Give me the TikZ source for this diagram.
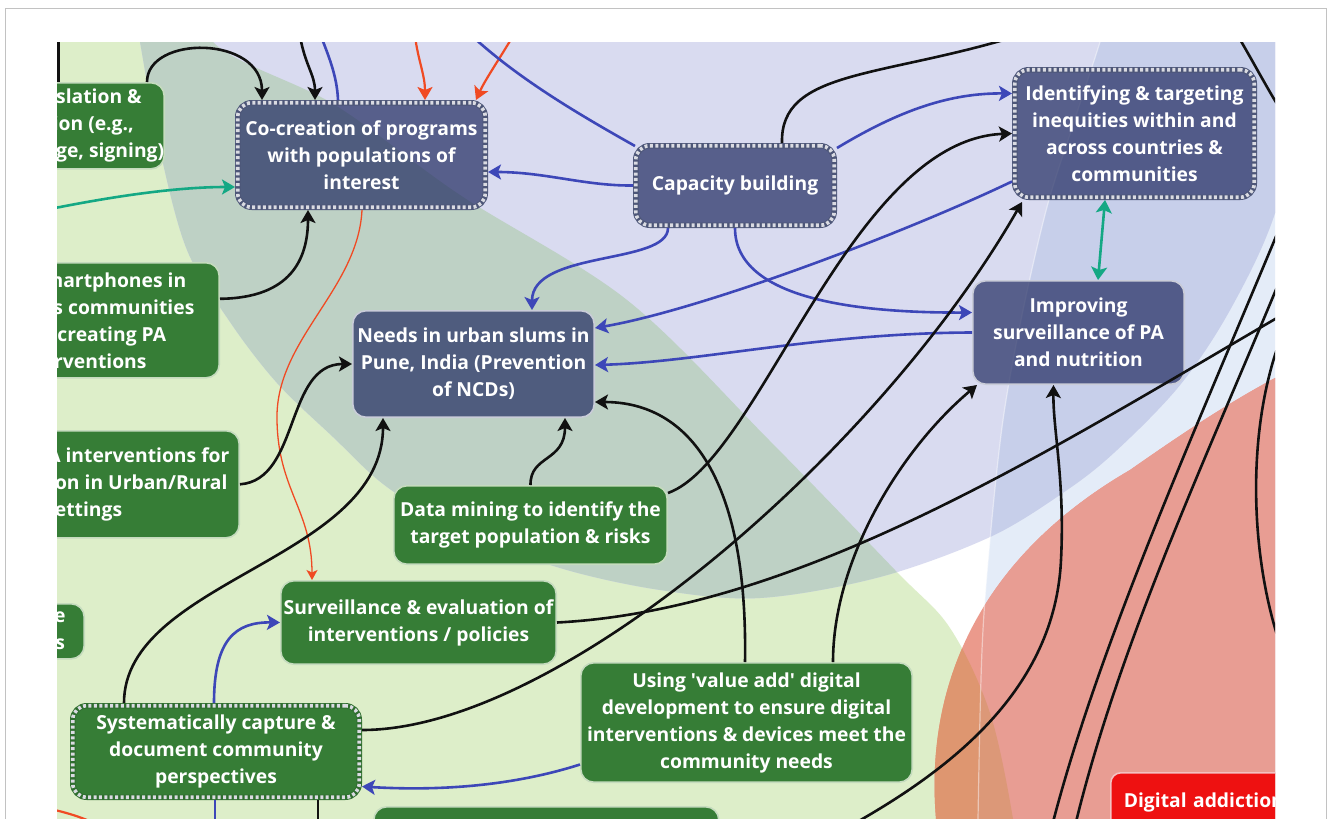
\documentclass[tikz,border=0pt]{standalone}
\usepackage{fontspec}
\setmainfont{Open Sans}
\usetikzlibrary{arrows.meta,calc}

% zone colours
\definecolor{lilacbg}{HTML}{D9DBF0}
\definecolor{leafbg}{HTML}{DDEEC9}
\definecolor{sagebg}{HTML}{BED1C5}
\definecolor{mistbg}{HTML}{E4ECF8}
\definecolor{periwink}{HTML}{C7CFEA}
\definecolor{salmonbg}{HTML}{EB9A8C}
\definecolor{ochrebg}{HTML}{DE9670}
\definecolor{salmonmist}{HTML}{E89D93}
\definecolor{ochremist}{HTML}{DC9878}
% box colours
\definecolor{navyfill}{HTML}{212B61}
\definecolor{navyedge}{HTML}{4D5678}
\definecolor{navyrim}{HTML}{C9CCD8}
\definecolor{leaf}{HTML}{367D36}
\definecolor{leafedge}{HTML}{2F6E2F}
\definecolor{leafrim}{HTML}{C5DBBE}
\definecolor{dotlight}{HTML}{DADBE2}
\definecolor{alarm}{HTML}{EE1111}
\definecolor{alarmrim}{HTML}{F3C2C2}
% connector colours
\definecolor{arrowblue}{HTML}{3D47B8}
\definecolor{arroworange}{HTML}{F04A23}
\definecolor{arrowteal}{HTML}{14A884}
\definecolor{inkline}{HTML}{111111}
\definecolor{framegray}{HTML}{C2C2C2}

% background zones (coordinates in pixels, y pointing down)
\def\leafzone{plot[smooth, tension=0.55] coordinates {(195,-40) (213,42) (335,105) (460,195) (627,300) (769,440) (895,570) (950,628) (990,713) (1013,819) (1018,880)} -- (-60,880) -- (-60,-40) -- cycle}
\def\lilaczone{plot[smooth cycle, tension=0.55] coordinates {(120,-80) (140,42) (160,150) (187,250) (230,322) (277,383) (333,437) (387,487) (460,530) (560,568) (660,590) (760,598) (880,577) (990,537) (1067,490) (1117,450) (1180,385) (1230,310) (1275,213) (1305,80) (1300,-80) (700,-150)}}
\def\mistzone{plot[smooth, tension=0.55] coordinates {(1125,-40) (1100,42) (1073,125) (1047,207) (1022,315) (1003,420) (990,540) (982,650) (978,819) (978,880)} -- (1400,880) -- (1400,-40) -- cycle}
\def\salmonzone{(936,880) -- (936,819) .. controls (925,690) and (975,560) .. (1130,470) .. controls (1190,428) and (1240,395) .. (1300,365) -- (1400,365) -- (1400,880) -- cycle}

\tikzset{
  lbl/.style={font=\bfseries\fontsize{19.3}{27}\selectfont, text=white, align=center, inner sep=0pt},
  navybox/.style={lbl, rectangle, rounded corners=13pt, fill=navyfill, fill opacity=0.7, text opacity=1, draw=navyrim, line width=1.6pt},
  navydots/.style={lbl, rectangle, rounded corners=14pt, fill=navyfill, fill opacity=0.7, text opacity=1, draw=navyedge, line width=5.5pt, postaction={draw=dotlight, line width=3.6pt, dash pattern=on 3pt off 2.4pt}},
  leafbox/.style={lbl, rectangle, rounded corners=13pt, fill=leaf, draw=leafrim, line width=1.6pt},
  leafdots/.style={lbl, rectangle, rounded corners=14pt, fill=leaf, draw=leafedge, line width=5.5pt, postaction={draw=dotlight, line width=3.6pt, dash pattern=on 3pt off 2.4pt}},
  alarmbox/.style={lbl, rectangle, rounded corners=10pt, fill=alarm, draw=alarmrim, line width=1.6pt},
  ink/.style={draw=inkline, line width=2.6pt},
  blu/.style={draw=arrowblue, line width=2.6pt},
  org/.style={draw=arroworange, line width=2.2pt},
  orgthin/.style={draw=arroworange, line width=1.3pt},
  teal/.style={draw=arrowteal, line width=2.6pt},
  headed/.style={-{Stealth[length=13pt,width=15pt,inset=3pt]}},
  smallhead/.style={-{Stealth[length=10pt,width=11pt,inset=2.5pt]}},
  twohead/.style={{Stealth[length=13pt,width=16pt,inset=3pt]}-{Stealth[length=13pt,width=16pt,inset=3pt]}},
}

\begin{document}
\begin{tikzpicture}[x=1pt, y=-1pt]
\useasboundingbox (0,0) rectangle (1328,819);
\fill[white] (0,0) rectangle (1328,819);
\draw[framegray, line width=1.3pt] (5.5,830) |- (1326.5,8.5) -- (1326.5,830);

\begin{scope}
  \clip (57,42) rectangle (1275,840);

  % overlapping zones
  \fill[mistbg] \mistzone;
  \fill[leafbg] \leafzone;
  \fill[lilacbg] \lilaczone;
  \begin{scope} \clip \leafzone; \fill[sagebg] \lilaczone; \end{scope}
  \begin{scope} \clip \mistzone; \fill[periwink] \lilaczone; \end{scope}
  \fill[salmonbg] \salmonzone;
  \begin{scope}
    \clip \salmonzone;
    \fill[ochrebg] \leafzone;
    \fill[salmonmist] \mistzone;
    \clip \mistzone;
    \fill[ochremist] \leafzone;
  \end{scope}
  \draw[white, opacity=0.45, line width=1.2pt] \mistzone;

  % boxes
  \node[navydots, minimum width=247.5pt, minimum height=104.5pt] (cocreate) at (361.5,155) {Co-creation of programs\\with populations of\\interest};
  \node[navydots, minimum width=198.5pt, minimum height=79.5pt] (capacity) at (735,185.5) {Capacity building};
  \node[navydots, minimum width=239.5pt, minimum height=127.5pt] (identify) at (1134.5,133.5) {Identifying \& targeting\\inequities within and\\across countries \&\\communities};
  \node[navybox, minimum width=211.4pt, minimum height=103.4pt] (improve) at (1078.5,332.5) {Improving\\surveillance of PA\\and nutrition};
  \node[navybox, minimum width=241.4pt, minimum height=106.4pt] (needs) at (473.5,364) {Needs in urban slums in\\Pune, India (Prevention\\of NCDs)};
  \node[leafbox, minimum width=273.4pt, minimum height=78.4pt] (datamine) at (530.5,525) {Data mining to identify the\\target population \& risks};
  \node[leafbox, minimum width=275.4pt, minimum height=83.4pt] (surveil) at (418.5,622.5) {Surveillance \& evaluation of\\interventions / policies};
  \node[leafdots, minimum width=286.5pt, minimum height=91.5pt] (system) at (216,751.5) {Systematically capture \&\\document community\\perspectives};
  \node[leafbox, minimum width=331.4pt, minimum height=119.4pt] (valueadd) at (746.5,722.5) {Using \textquotesingle value add\textquotesingle{} digital\\development to ensure digital\\interventions \& devices meet the\\community needs};
  \node[leafbox, anchor=north east, minimum width=172pt, minimum height=86pt] (trans) at (165,82) {Translation \&\\Action (e.g.,\\language, signing)};
  \node[leafbox, anchor=north east, minimum width=276pt, minimum height=115pt] (phones) at (220,262) {Using smartphones in\\in various communities\\for co-creating PA\\interventions};
  \node[leafbox, anchor=north east, minimum width=312pt, minimum height=107pt] (dpa) at (240,430) {Designing PA interventions for\\NCD reduction in Urban/Rural\\Settings};
  \node[leafbox, anchor=north east, minimum width=150pt, minimum height=55pt] (sustain) at (85,603) {Sustainable\\approaches};
  \node[leafbox, anchor=north west, minimum width=345pt, minimum height=60pt] (lowbox) at (373,806) {};
  \node[alarmbox, anchor=north west, align=left, text width=204pt, inner xsep=13pt, minimum height=60pt] (addict) at (1110,772) {Digital addiction};

  % free ends at the edges of the view
  \coordinate (top1) at (300,36);
  \coordinate (top2) at (321,36);
  \coordinate (top3) at (415,36);
  \coordinate (top4) at (513,36);
  \coordinate (top5) at (472,36);
  \coordinate (top6) at (1017,36);
  \coordinate (top7) at (58.5,36);
  \coordinate (rgt1) at (1282,315);
  \coordinate (rgt2) at (1238,36);
  \coordinate (rgt3) at (1282,112);
  \coordinate (rgt4) at (1282,222);
  \coordinate (rgt5) at (1282,275);
  \coordinate (rgt6) at (1282,335);
  \coordinate (rgt7) at (1282,650);
  \coordinate (lft1) at (50,209);
  \coordinate (lft2) at (50,809);
  \coordinate (bot1) at (850,826);
  \coordinate (bot2) at (1052,826);
  \coordinate (bot3) at (1075,826);
  \coordinate (bot4) at (318,826);
  \coordinate (bot5) at (215,826);
  \coordinate (bot6) at (100,826);

  % connectors
  \draw[ink, headed] ($(trans.north east)+(-18,0)$) .. controls (147,35) and (262,35) .. ($(cocreate.north west)+(27,0)$);
  \draw[ink, headed] (top1) .. controls (305,65) and (315,75) .. ($(cocreate.north)+(-46.5,0)$);
  \draw[blu] ($(cocreate.north)+(-23.5,0)$) .. controls (337,75) and (328,55) .. (top2);
  \draw[org, headed] (top3) .. controls (418,60) and (425,75) .. ($(cocreate.north)+(63.5,0)$);
  \draw[org, headed] (top4) .. controls (500,58) and (485,80) .. ($(cocreate.north east)+(-12,0)$);
  \draw[blu] (top5) .. controls (520,80) and (580,115) .. ($(capacity.north west)+(2,3)$);
  \draw[blu, headed] (capacity.west) .. controls (585,186) and (545,172) .. ($(cocreate.east)+(0,17)$);
  \draw[blu, headed] ($(capacity.south)+(-67,0)$) .. controls (668,265) and (532,250) .. ($(needs.north)+(58.5,0)$);
  \draw[blu, headed] (capacity.south) .. controls (735,300) and (860,313) .. ($(improve.west)+(0,-20)$);
  \draw[blu, headed] ($(capacity.north east)+(0,5)$) .. controls (900,110) and (950,93) .. ($(identify.west)+(0,-40)$);
  \draw[ink] ($(capacity.north)+(47,0)$) .. controls (780,70) and (880,78) .. (top6);
  \draw[blu, headed] ($(identify.west)+(0,48)$) .. controls (900,235) and (700,310) .. ($(needs.east)+(0,-36)$);
  \draw[blu, headed] (improve.west) .. controls (820,333) and (700,362) .. ($(needs.east)+(0,1)$);
  \draw[teal, twohead] ($(identify.south)+(-29.5,0)$) -- ($(improve.north)+(19.5,0)$);
  \draw[teal, headed] (lft1) .. controls (120,195) and (180,187) .. ($(cocreate.west)+(0,32)$);
  \draw[ink, headed] ($(phones.east)+(0,-21.5)$) .. controls (290,298) and (308,260) .. ($(cocreate.south)+(-53.5,0)$);
  \draw[orgthin, smallhead] ($(cocreate.south)+(0.5,0)$) .. controls (358,290) and (275,340) .. (277,420) .. controls (278,490) and (312,510) .. ($(surveil.north)+(-106.5,0)$);
  \draw[ink, headed] (dpa.east) .. controls (300,480) and (285,364) .. (needs.west);
  \draw[ink, headed] ($(system.north)+(-92,0)$) .. controls (124,580) and (383,560) .. ($(needs.south)+(-90.5,0)$);
  \draw[ink, headed] (datamine.north) .. controls (530,455) and (565,462) .. ($(needs.south)+(91.5,0)$);
  \draw[ink, headed] ($(datamine.east)+(0,-32)$) .. controls (760,460) and (850,140) .. (identify.west);
  \draw[ink, headed] ($(system.east)+(0,-21.5)$) .. controls (560,730) and (880,450) .. ($(identify.south west)+(10,2)$);
  \draw[ink] (surveil.east) .. controls (800,610) and (1050,450) .. (rgt1);
  \draw[ink, headed] ($(valueadd.north)+(-1.5,0)$) .. controls (748,480) and (690,402) .. ($(needs.east)+(0,38)$);
  \draw[ink, headed] ($(valueadd.north)+(86.5,0)$) .. controls (833,560) and (900,450) .. ($(improve.south west)+(5,0)$);
  \draw[ink, headed] (bot1) .. controls (950,770) and (1055,690) .. (1061,560) .. controls (1065,480) and (1053,430) .. ($(improve.south)+(-25,0)$);
  \draw[ink] (rgt2) .. controls (1255,65) and (1268,90) .. (rgt3);
  \draw[ink] (rgt4) .. controls (1200,420) and (1100,640) .. (bot2);
  \draw[ink] (rgt5) .. controls (1210,450) and (1120,640) .. (bot3);
  \draw[ink] (rgt6) .. controls (1245,430) and (1250,560) .. (rgt7);
  \draw[blu, headed] ($(system.north)+(-2,0)$) .. controls (214,640) and (235,622) .. (surveil.west);
  \draw[blu, headed] ($(valueadd.west)+(0,42)$) .. controls (500,790) and (420,790) .. ($(system.east)+(0,35)$);
  \draw[ink] ($(system.south)+(102,0)$) -- (bot4);
  \draw[blu] ($(system.south)+(-1,0)$) -- (bot5);
  \draw[org] (lft2) .. controls (65,812) and (85,818) .. (bot6);
  \draw[ink] (top7) -- ($(trans.north east)+(-106.5,0)$);
\end{scope}
\end{tikzpicture}
\end{document}
